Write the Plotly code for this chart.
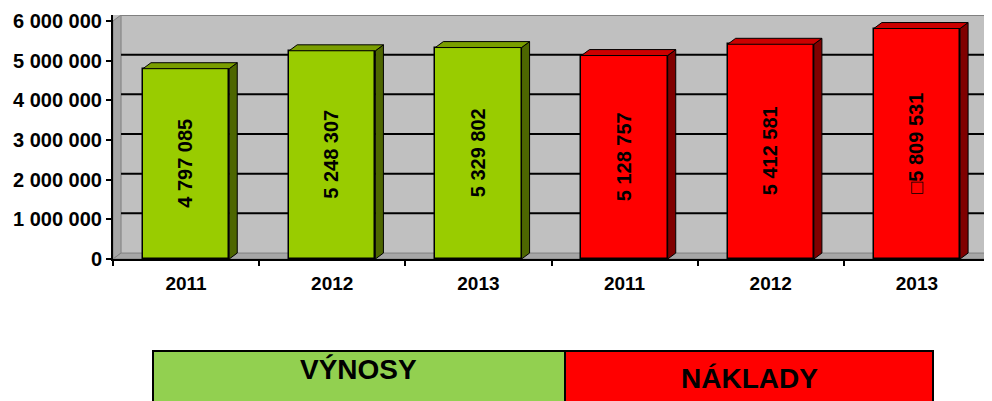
import plotly.graph_objects as go

# ---- data ----
years = ["2011", "2012", "2013", "2011", "2012", "2013"]
vynosy = [4797085, 5248307, 5329802]
naklady = [5128757, 5412581, 5809531]
label_prefix = ["", "", "", "", "", "\u25a1"]
y_ticks = [0, 1000000, 2000000, 3000000, 4000000, 5000000, 6000000]
legend_names = ["VÝNOSY", "NÁKLADY"]

values = vynosy + naklady
xpos = list(range(len(values)))
front_cols = ["#99CC00"] * 3 + ["#FF0000"] * 3
side_cols = ["#4D6600"] * 3 + ["#800000"] * 3
top_cols = ["#7A9E00"] * 3 + ["#CC0000"] * 3

W = 0.59      # bar width (category units)
DX = 0.055    # depth offset in x (category units)
DY = 150000   # depth offset in y (value units)
YTOP = 6000000 + DY
FONT = "Liberation Sans, Arial"

def fmt(v):
    return f"{v:,}".replace(",", " ")

fig = go.Figure()

# front faces
fig.add_trace(go.Bar(
    x=xpos, y=values, width=W,
    marker=dict(color=front_cols, line=dict(color="black", width=1.5)),
    text=[p + fmt(v) for p, v in zip(label_prefix, values)],
    textposition="inside", insidetextanchor="middle", textangle=-90,
    constraintext="none",
    textfont=dict(family=FONT, size=20, color="black", weight="bold"),
    showlegend=False, hoverinfo="skip",
))

# side and top faces from data
for x, v, sc, tc in zip(xpos, values, side_cols, top_cols):
    r = x + W / 2
    l = x - W / 2
    fig.add_trace(go.Scatter(
        x=[r, r + DX, r + DX, r, r], y=[0, DY, v + DY, v, 0],
        fill="toself", fillcolor=sc, mode="lines",
        line=dict(color="black", width=1), showlegend=False, hoverinfo="skip"))
    fig.add_trace(go.Scatter(
        x=[l, l + DX, r + DX, r, l], y=[v, v + DY, v + DY, v, v],
        fill="toself", fillcolor=tc, mode="lines",
        line=dict(color="black", width=1), showlegend=False, hoverinfo="skip"))

shapes = []
# left wall
shapes.append(dict(type="path", xref="x", yref="y",
                   path=f"M -0.5 0 L {-0.5+DX} {DY} L {-0.5+DX} {YTOP} L -0.5 {YTOP-DY} Z",
                   fillcolor="#A6A6A6", line=dict(color="#808080", width=1), layer="below"))
# floor
shapes.append(dict(type="path", xref="x", yref="y",
                   path=f"M -0.5 0 L {-0.5+DX} {DY} L 5.5 {DY} L 5.5 0 Z",
                   fillcolor="#A6A6A6", line=dict(color="#808080", width=1), layer="below"))
# back-wall gridlines
for t in y_ticks[1:-1]:
    shapes.append(dict(type="line", xref="x", yref="y", x0=-0.5 + DX, x1=5.5,
                       y0=t + DY, y1=t + DY, line=dict(color="black", width=2), layer="below"))
# top border of back wall
shapes.append(dict(type="line", xref="x", yref="y", x0=-0.5 + DX, x1=5.5,
                   y0=YTOP, y1=YTOP, line=dict(color="#808080", width=2), layer="below"))

# figure geometry (page body has an 8px margin)
OFF = 8
FW, FH = 984, 393
L, R_, T, B = 105, 2, 7, 142
PW = FW - L - R_
PH = FH - T - B
def px(xp): return (xp - OFF - L) / PW
def py(yp): return (FH - B - (yp - OFF)) / PH

shapes.append(dict(type="rect", xref="paper", yref="paper",
                   x0=px(153), x1=px(565), y0=py(351), y1=py(410),
                   fillcolor="#92D050", line=dict(color="black", width=2)))
shapes.append(dict(type="rect", xref="paper", yref="paper",
                   x0=px(565), x1=px(933), y0=py(351), y1=py(410),
                   fillcolor="#FF0000", line=dict(color="black", width=2)))

annotations = [
    dict(xref="paper", yref="paper", x=px(358), y=py(369), text=legend_names[0],
         showarrow=False, xanchor="center", yanchor="middle",
         font=dict(family=FONT, size=28, color="black", weight="bold")),
    dict(xref="paper", yref="paper", x=px(749), y=py(378), text=legend_names[1],
         showarrow=False, xanchor="center", yanchor="middle",
         font=dict(family=FONT, size=28, color="black", weight="bold")),
]

fig.update_layout(
    width=FW, height=FH,
    margin=dict(l=L, r=R_, t=T, b=B, autoexpand=False),
    paper_bgcolor="white", plot_bgcolor="#C0C0C0",
    shapes=shapes, annotations=annotations,
    bargap=0, showlegend=False,
    font=dict(family=FONT, color="black"),
)
fig.update_xaxes(
    range=[-0.5, 5.5], tickvals=xpos, ticktext=years, ticks="",
    showgrid=False, zeroline=False, showline=True, linecolor="black", linewidth=2,
    tickfont=dict(size=19, weight="bold", color="black"),
    ticklabelstandoff=6,
    minor=dict(tickvals=[-0.5, 0.5, 1.5, 2.5, 3.5, 4.5, 5.5], ticks="outside",
               ticklen=5, tickcolor="black", tickwidth=2, showgrid=False),
)
fig.update_yaxes(
    range=[0, YTOP], tickvals=y_ticks, ticktext=[fmt(t) for t in y_ticks],
    ticks="outside", ticklen=5, tickcolor="black", tickwidth=2,
    showgrid=False, zeroline=False, showline=True, linecolor="black", linewidth=2,
    tickfont=dict(size=20, weight="bold", color="black"),
)

fig.write_html("out.html")
